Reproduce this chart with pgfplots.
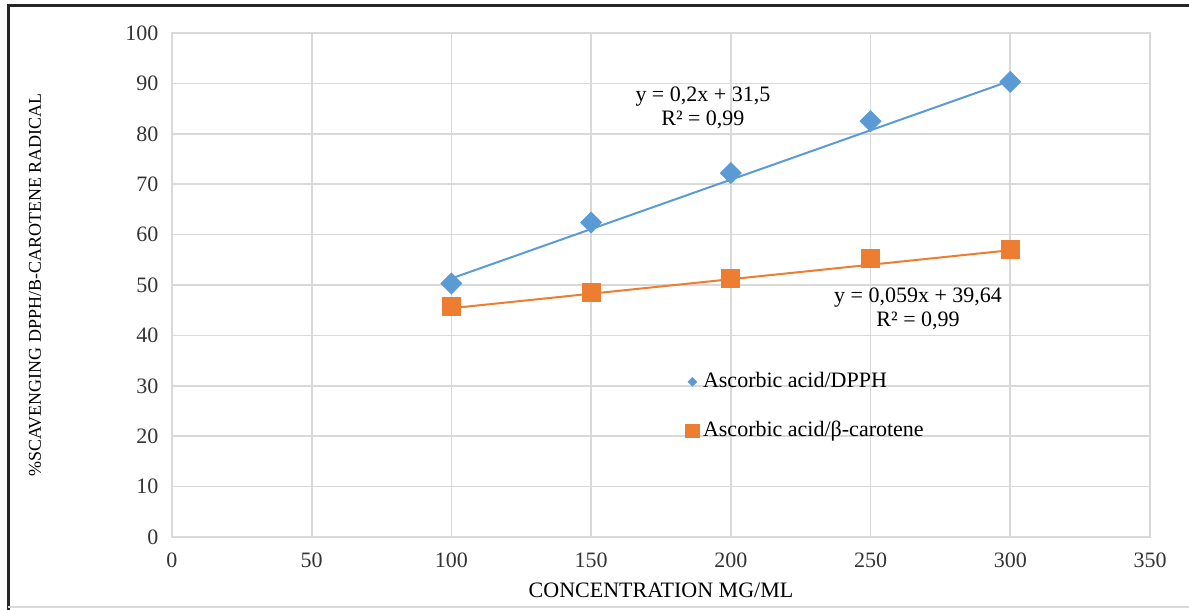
\documentclass[border=0pt]{standalone}
\usepackage{pgfplots}
\pgfplotsset{compat=1.18}
\usepackage{fontspec}
\setmainfont{Liberation Serif}
\definecolor{cblue}{HTML}{5B9BD5}
\definecolor{corange}{HTML}{ED7D31}
\definecolor{cgrid}{HTML}{D9D9D9}
\begin{document}
\fontsize{11}{13}\selectfont
\begin{tikzpicture}
\path[use as bounding box] (0,0) rectangle (594.5pt,305pt);
\draw[line width=1.5pt,black!85] (4pt,0pt) -- (4pt,302pt) -- (594.5pt,302pt);
\draw[line width=1pt,cgrid] (4pt,1.5pt) -- (594.5pt,1.5pt);
\begin{axis}[
  at={(86pt,36.5pt)}, anchor=south west,
  scale only axis, width=489pt, height=252pt,
  xmin=0, xmax=350, ymin=0, ymax=100,
  xtick={0,50,...,350}, ytick={0,10,...,100},
  grid=major, grid style={cgrid, line width=0.8pt},
  axis line style={cgrid, line width=0.8pt},
  major tick length=0pt,
  tick label style={font=\fontsize{11}{13}\selectfont, black!80},
  /pgf/number format/assume math mode=true,
  xticklabel style={yshift=-4pt},
  yticklabel style={xshift=-3pt},
  xlabel={CONCENTRATION MG/ML},
  ylabel={\%SCAVENGING DPPH/B-CAROTENE RADICAL},
  xlabel style={at={(axis description cs:0.5,-0.105)}, anchor=center, font=\fontsize{11}{13}\selectfont},
  ylabel style={at={(axis description cs:-0.140,0.5)}, anchor=center, font=\fontsize{9}{11}\selectfont},
  legend style={at={(axis description cs:0.525,0.335)}, anchor=north west, draw=none, fill=none,
    font=\fontsize{11}{13}\selectfont, row sep=11pt, inner sep=0pt},
  legend cell align=left,
  clip=false,
]
% trendlines
\addplot[cblue, line width=1pt, forget plot] coordinates {(100,51.3) (300,90.5)};
\addplot[corange, line width=1pt, forget plot] coordinates {(100,45.4) (300,56.9)};
% data
\addplot[only marks, mark=square*, mark size=3.7pt, mark options={rotate=45, fill=cblue, draw=cblue}, forget plot]
  coordinates {(100,50.3) (150,62.4) (200,72.2) (250,82.5) (300,90.3)};
\addplot[only marks, mark=square*, mark size=4.5pt, mark options={fill=corange, draw=corange}, forget plot]
  coordinates {(100,45.8) (150,48.5) (200,51.4) (250,55.2) (300,57.1)};
\addlegendimage{only marks, mark=square*, mark size=1.5pt, mark options={rotate=45, fill=cblue, draw=cblue}}
\addlegendentry{Ascorbic acid/DPPH}
\addlegendimage{only marks, mark=square*, mark size=3.3pt, mark options={fill=corange, draw=corange}}
\addlegendentry{Ascorbic acid/β-carotene}
\node[align=center, font=\fontsize{11}{12}\selectfont, inner sep=0pt] at (axis cs:190,85.2) {y = 0,2x + 31,5\\R² = 0,99};
\node[align=center, font=\fontsize{11}{12}\selectfont, inner sep=0pt] at (axis cs:267,45.3) {y = 0,059x + 39,64\\R² = 0,99};
\end{axis}
\end{tikzpicture}
\end{document}
